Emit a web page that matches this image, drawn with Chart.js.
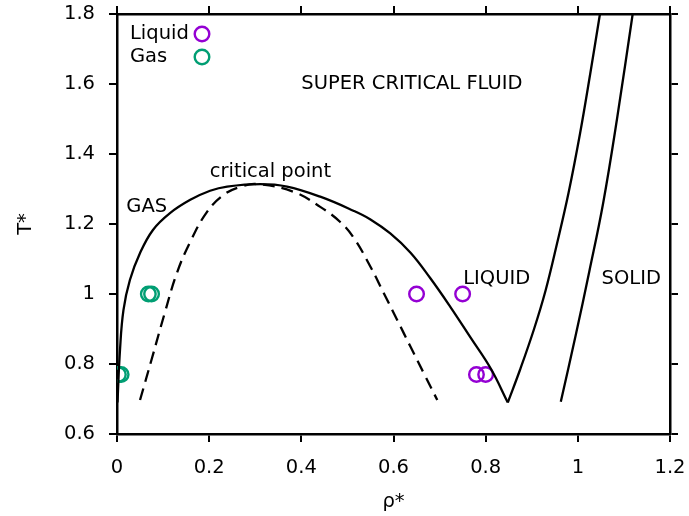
<!DOCTYPE html>
<html>
<head>
<meta charset="utf-8">
<script src="https://cdn.jsdelivr.net/npm/chart.js@4/dist/chart.umd.min.js"></script>
<style>
    html, body { margin: 0; padding: 0; background: #fff; }
    #wrap { width: 689px; height: 516px; }
</style>
</head>
<body>
<div id="wrap"><canvas id="chart"></canvas></div>
<script>
// gas-liquid coexistence curve (binodal)
const binodalRho = [0.001, 0.0065, 0.014, 0.028, 0.05, 0.078, 0.115, 0.159, 0.202, 0.239, 0.311, 0.369, 0.441, 0.513, 0.55, 0.593, 0.637, 0.68, 0.724, 0.767, 0.811, 0.848];
const binodalT = [0.69, 0.84, 0.954, 1.04, 1.117, 1.183, 1.231, 1.269, 1.295, 1.307, 1.314, 1.307, 1.278, 1.238, 1.213, 1.173, 1.118, 1.045, 0.962, 0.876, 0.787, 0.69];

// spinodal (dashed)
const spinodalRho = [0.05, 0.076, 0.103, 0.13, 0.159, 0.195, 0.231, 0.267, 0.304, 0.383, 0.441, 0.485, 0.514, 0.55, 0.579, 0.608, 0.637, 0.666, 0.695];
const spinodalT = [0.697, 0.817, 0.943, 1.06, 1.149, 1.234, 1.283, 1.306, 1.314, 1.292, 1.249, 1.205, 1.16, 1.078, 1.002, 0.926, 0.849, 0.773, 0.697];

// freezing and melting lines
const freezingRho = [0.848, 0.875, 0.905, 0.93, 0.955, 0.98, 1.005, 1.027, 1.048];
const freezingT = [0.69, 0.785, 0.9, 1.01, 1.145, 1.29, 1.46, 1.63, 1.8];
const meltingRho = [0.963, 0.995, 1.025, 1.055, 1.085, 1.119];
const meltingT = [0.692, 0.88, 1.065, 1.26, 1.5, 1.8];

// simulated state points
const liquidRho = [0.65, 0.75, 0.78, 0.8];
const liquidT = [1.0, 1.0, 0.77, 0.77];
const gasRho = [0.003, 0.009, 0.068, 0.075];
const gasT = [0.77, 0.77, 1.0, 1.0];

const xTicks = [0, 0.2, 0.4, 0.6, 0.8, 1, 1.2];
const yTicks = [0.6, 0.8, 1, 1.2, 1.4, 1.6, 1.8];

const regionLabels = [
    { text: "SUPER CRITICAL FLUID", rho: 0.64, t: 1.6 },
    { text: "critical point", rho: 0.333, t: 1.349 },
    { text: "GAS", rho: 0.0645, t: 1.249 },
    { text: "LIQUID", rho: 0.824, t: 1.043 },
    { text: "SOLID", rho: 1.116, t: 1.043 }
];

const FONT = "DejaVu Sans";
const FONT_SIZE = 19.5;
const MARK_R = 7.3;
Chart.defaults.font.family = FONT;
Chart.defaults.font.size = FONT_SIZE;
Chart.defaults.color = "#000";

function pairs(xs, ys) {
    return xs.map((x, i) => ({ x, y: ys[i] }));
}

function curve(xs, ys, dash) {
    return {
        data: pairs(xs, ys),
        showLine: true,
        borderColor: "#000",
        borderWidth: 2.3,
        borderDash: dash || [],
        pointRadius: 0,
        tension: 0.4,
        fill: false
    };
}

function points(label, xs, ys, color) {
    return {
        label,
        data: pairs(xs, ys),
        showLine: false,
        pointStyle: "circle",
        pointRadius: MARK_R,
        pointBorderWidth: 2.4,
        pointBorderColor: color,
        pointBackgroundColor: "rgba(0,0,0,0)",
        borderColor: color
    };
}

const stateSets = [
    points("Liquid", liquidRho, liquidT, "#9400D3"),
    points("Gas", gasRho, gasT, "#009E73")
];

// text labels for the regions plus the key in the upper left corner
const labelPlugin = {
    id: "phaseLabels",
    afterDatasetsDraw(chart) {
        const { ctx, scales: { x, y }, chartArea } = chart;
        ctx.save();
        ctx.font = `${FONT_SIZE}px "${FONT}"`;
        ctx.fillStyle = "#000";
        ctx.textAlign = "center";
        ctx.textBaseline = "middle";
        for (const l of regionLabels) {
            ctx.fillText(l.text, x.getPixelForValue(l.rho), y.getPixelForValue(l.t));
        }
        ctx.textAlign = "left";
        stateSets.forEach((set, i) => {
            const ky = chartArea.top + 20 + i * 23;
            ctx.fillStyle = "#000";
            ctx.fillText(set.label, chartArea.left + 13, ky);
            ctx.beginPath();
            ctx.arc(chartArea.left + 85, ky, MARK_R, 0, Math.PI * 2);
            ctx.lineWidth = 2.4;
            ctx.strokeStyle = set.borderColor;
            ctx.stroke();
        });
        ctx.restore();
    }
};

const gridOpts = { drawOnChartArea: false, drawTicks: true, tickLength: 8, lineWidth: 2, color: "#000" };
const borderOpts = { display: true, color: "#000", width: 2.5 };
const plainLabel = value => String(value);

function setTicks(list) {
    return scale => { scale.ticks = list.map(value => ({ value })); };
}

// fixed box sizes, and no extra room for labels hanging over the ends
function fixHeight(h) {
    return s => { s.height = h; s.paddingLeft = 0; s.paddingRight = 0; };
}
function fixWidth(w) {
    return s => { s.width = w; s.paddingTop = 0; s.paddingBottom = 0; };
}

new Chart(document.getElementById("chart"), {
    type: "scatter",
    data: {
        datasets: [
            curve(binodalRho, binodalT),
            curve(spinodalRho, spinodalT, [12, 7]),
            curve(freezingRho, freezingT),
            curve(meltingRho, meltingT),
            ...stateSets
        ]
    },
    options: {
        responsive: true,
        maintainAspectRatio: false,
        animation: false,
        layout: { padding: 0 },
        plugins: { legend: { display: false }, tooltip: { enabled: false } },
        scales: {
            x: {
                type: "linear", position: "bottom", min: 0, max: 1.2,
                afterBuildTicks: setTicks(xTicks),
                afterFit: fixHeight(82),
                grid: gridOpts, border: borderOpts,
                ticks: { padding: 14, maxRotation: 0, callback: plainLabel },
                title: { display: true, text: "ρ*", padding: { top: 0, bottom: 2 } }
            },
            xTop: {
                type: "linear", position: "top", min: 0, max: 1.2,
                afterBuildTicks: setTicks(xTicks),
                afterFit: fixHeight(14),
                grid: gridOpts, border: borderOpts,
                ticks: { display: false }
            },
            y: {
                type: "linear", position: "left", min: 0.6, max: 1.8,
                afterBuildTicks: setTicks(yTicks),
                afterFit: fixWidth(117),
                grid: gridOpts, border: borderOpts,
                ticks: { padding: 14, callback: plainLabel },
                title: { display: true, text: "T*", padding: { top: 14, bottom: 14 } }
            },
            yRight: {
                type: "linear", position: "right", min: 0.6, max: 1.8,
                afterBuildTicks: setTicks(yTicks),
                afterFit: fixWidth(19),
                grid: gridOpts, border: borderOpts,
                ticks: { display: false }
            }
        }
    },
    plugins: [labelPlugin]
});
</script>
</body>
</html>
